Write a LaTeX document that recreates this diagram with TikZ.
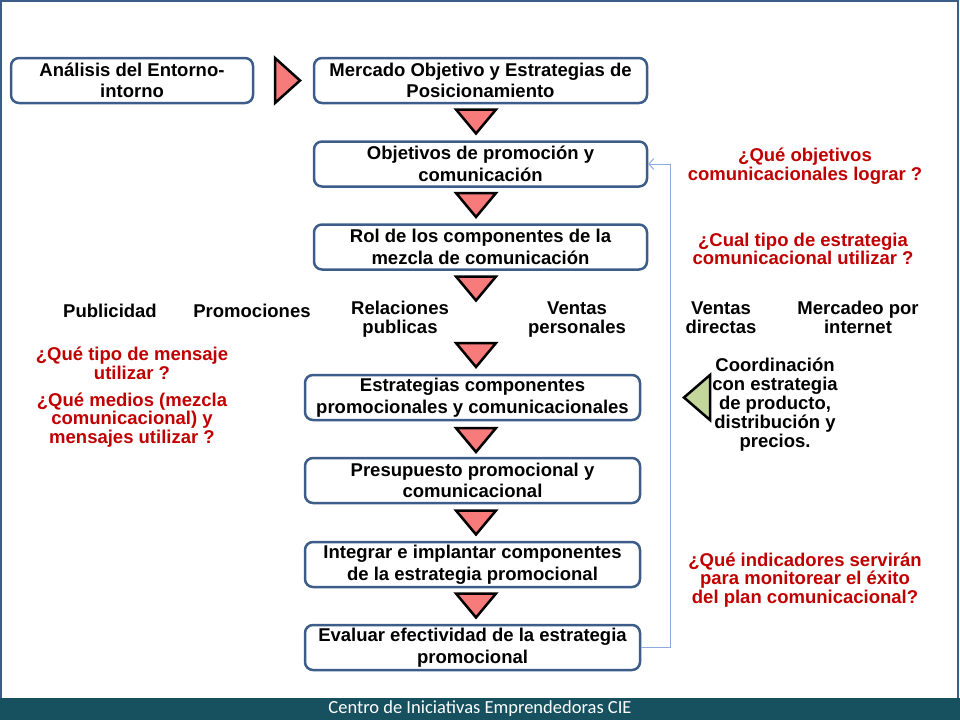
\documentclass[tikz,border=0pt]{standalone}
\usepackage{fontspec}
\setmainfont{Liberation Sans}
\newfontfamily\footfont{Carlito}
\usetikzlibrary{arrows.meta}

\definecolor{boxblue}{HTML}{3C5D8A}
\definecolor{trired}{HTML}{F77B7B}
\definecolor{trigreen}{HTML}{C3D69B}
\definecolor{askred}{HTML}{C00000}
\definecolor{barteal}{HTML}{17505F}
\definecolor{linkblue}{HTML}{8FAADC}

\begin{document}
\begin{tikzpicture}[x=1pt, y=-1pt,
    stage/.style={draw=boxblue, line width=2.5pt, rounded corners=8pt, fill=white,
        minimum height=45pt, inner sep=1pt, align=center,
        font=\bfseries\fontsize{18.5}{21.5}\selectfont},
    tag/.style={align=center, inner sep=1pt, font=\bfseries\fontsize{18.5}{19}\selectfont},
    ask/.style={text=askred, align=center, inner sep=1pt, font=\bfseries\fontsize{18.5}{18.5}\selectfont},
    tri/.style={draw=black, line width=2.5pt, line join=miter, fill=trired},
    feedback/.style={draw=linkblue, line width=1pt, -{Straight Barb[length=5pt, width=11pt]}}]
    \useasboundingbox (0,0) rectangle (960,720);
    % frame and footer
    \draw[boxblue, line width=2pt] (1,1) rectangle (958,719);
    \fill[barteal] (0,698) rectangle (960,720);
    \node[text=white, font=\footfont\fontsize{18.5}{20}\selectfont] (footer) at (480,709) {Centro de Iniciativas Emprendedoras CIE};

    % main flow
    \node[stage, minimum width=242pt] (entorno) at (132,80.5) {Análisis del Entorno-\\intorno};
    \node[stage, minimum width=333pt] (mercado) at (480.5,80.5) {Mercado Objetivo y Estrategias de\\Posicionamiento};
    \node[stage, minimum width=333pt] (objetivos) at (480.5,164) {Objetivos de promoción y\\comunicación};
    \node[stage, minimum width=333pt] (rol) at (480.5,247) {Rol de los componentes de la\\mezcla de comunicación};
    \node[stage, minimum width=335pt] (estrategias) at (472.5,397.5) {Estrategias componentes\\promocionales y comunicacionales};
    \node[stage, minimum width=335pt] (presupuesto) at (472.5,480.5) {Presupuesto promocional y\\comunicacional};
    \node[stage, minimum width=335pt] (integrar) at (472.5,564.5) {Integrar e implantar componentes\\de la estrategia promocional};
    \node[stage, minimum width=335pt] (evaluar) at (472.5,647.5) {Evaluar efectividad de la estrategia\\promocional};

    % arrows between stages
    \draw[tri] (275,58) -- (300,80.5) -- (275,103) -- cycle;
    \foreach \y in {121.5,205,288.5,355,440,522.5,605.5}
        \draw[tri] (456,\y-12) -- (496,\y-12) -- (476,\y+12) -- cycle;
    \draw[tri, fill=trigreen] (710,375) -- (684,397.5) -- (710,420) -- cycle;

    % feedback loop
    \coordinate (loopdown) at (670,647.5);
    \coordinate (loopup) at (670,164);
    \draw[feedback] (evaluar.east) -- (loopdown) -- (loopup) -- (objetivos.east);

    % communication mix
    \node[tag] (publicidad) at (110,311) {Publicidad};
    \node[tag] (promociones) at (252,311) {Promociones};
    \node[tag] (relaciones) at (400,319) {Relaciones\\publicas};
    \node[tag] (vpersonales) at (577,320) {Ventas\\personales};
    \node[tag] (vdirectas) at (721,318) {Ventas\\directas};
    \node[tag] (internet) at (858,317) {Mercadeo por\\internet};
    \node[tag] (coordinacion) at (775,405) {Coordinación\\con estrategia\\de producto,\\distribución y\\precios.};

    % questions
    \node[ask] (qobjetivos) at (805,166) {¿Qué objetivos\\comunicacionales lograr ?};
    \node[ask] (qestrategia) at (803,249) {¿Cual tipo de estrategia\\comunicacional utilizar ?};
    \node[ask] (qmensaje) at (132,363.5) {¿Qué tipo de mensaje\\utilizar ?};
    \node[ask] (qmedios) at (132,420) {¿Qué medios (mezcla\\comunicacional) y\\mensajes utilizar ?};
    \node[ask] (qindicadores) at (805,580) {¿Qué indicadores servirán\\para monitorear el éxito\\del plan comunicacional?};
\end{tikzpicture}
\end{document}
